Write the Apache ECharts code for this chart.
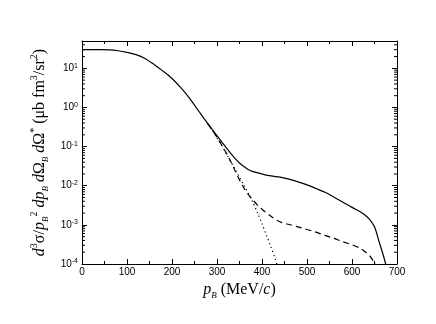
<!DOCTYPE html>
<html>
<head>
<meta charset="utf-8">
<script src="https://cdn.jsdelivr.net/npm/echarts@6/dist/echarts.min.js"></script>
<style>
  html, body { margin: 0; padding: 0; background: #fff; }
  #chart { width: 436px; height: 324px; }
</style>
</head>
<body>
<div id="chart"></div>
<script>
// momentum p_B (MeV/c) and cross sections (ub fm^3/sr^2)
var solidP = [0, 20, 40, 60, 80, 100, 120, 140, 160, 180, 200, 220, 240, 260, 280, 300, 320, 330, 340, 350, 360, 370, 380,
  400, 420, 440, 460, 480, 500, 520, 540, 560, 580, 600, 620, 630, 640, 650, 660, 670, 676];
var solidY = [30, 30, 30, 29.5, 28.2, 25.7, 22.4, 17.8, 12.6, 8.5, 5.5, 3.16, 1.66, 0.79, 0.38, 0.19, 0.095, 0.068, 0.05, 0.038, 0.031, 0.0257, 0.0229,
  0.02, 0.0178, 0.0166, 0.0148, 0.0126, 0.0105, 0.0085, 0.0068, 0.0051, 0.0038, 0.0028, 0.0021, 0.00174, 0.00135, 0.00089, 0.00038, 0.00016, 0.000089];

var dashP = [280, 300, 310, 320, 330, 340, 350, 360, 370, 380, 390, 400, 420, 440, 460, 480, 500, 520, 540, 560, 580, 600, 620, 640, 650, 655];
var dashY = [0.38, 0.174, 0.112, 0.071, 0.043, 0.0245, 0.0141, 0.0087, 0.0059, 0.0043, 0.0032, 0.0025, 0.00166, 0.0012, 0.00102, 0.00089,
  0.00076, 0.00065, 0.00054, 0.00045, 0.00037, 0.00031, 0.000245, 0.000158, 0.000107, 0.000087];

var dotP = [280, 300, 320, 340, 360, 370, 380, 390, 400, 410, 420, 430, 434];
var dotY = [0.38, 0.17, 0.068, 0.0265, 0.0102, 0.0063, 0.0037, 0.00204, 0.00107, 0.00054, 0.00027, 0.000129, 0.000093];

// y axis: decades 10^-4 .. 10^1, top of frame at ~50
var yDecades = [-4, -3, -2, -1, 0, 1];
var yTop = 50;
var minorSteps = [2, 3, 4, 5, 6, 7, 8, 9];

function toPairs(xs, ys) {
  return xs.map(function (x, i) { return [x, Math.log10(ys[i])]; });
}

// log positions of the small ticks between decades
var minorTicks = [];
yDecades.forEach(function (n) {
  minorSteps.forEach(function (k) {
    var v = Math.log10(k) + n;
    if (v < Math.log10(yTop)) minorTicks.push([0, v]);
  });
});

var serif = '"Liberation Serif", "DejaVu Serif", serif';
var sans = '"Liberation Sans", Arial, sans-serif';

var titleRich = {
  i: { fontFamily: serif, fontStyle: 'italic', fontSize: 16, color: '#000', lineHeight: 20 },
  r: { fontFamily: serif, fontSize: 16, color: '#000', lineHeight: 20 },
  sup: { fontFamily: serif, fontSize: 10, color: '#000', verticalAlign: 'top', lineHeight: 11 },
  sub: { fontFamily: serif, fontStyle: 'italic', fontSize: 9, color: '#000', verticalAlign: 'bottom', lineHeight: 10 }
};

var chart = echarts.init(document.getElementById('chart'), null, { renderer: 'canvas' });

var option = {
  backgroundColor: '#fff',
  animation: false,
  grid: { left: 82, right: 39, top: 41, bottom: 60, containLabel: false },
  xAxis: [
    {
      type: 'value', min: 0, max: 700, interval: 100,
      name: '{i|p}{sub|B}{r| (MeV/}{i|c}{r|)}',
      nameLocation: 'middle', nameGap: 15,
      nameTextStyle: { rich: titleRich },
      axisLine: { show: true, onZero: false, lineStyle: { color: '#000', width: 1 } },
      axisTick: { show: true, inside: true, length: 5, lineStyle: { color: '#000' } },
      minorTick: { show: true, splitNumber: 2, length: 3, lineStyle: { color: '#000' } },
      axisLabel: { fontFamily: sans, fontSize: 10, color: '#000', margin: 3 },
      splitLine: { show: false }
    },
    {
      type: 'value', min: 0, max: 700, interval: 100, position: 'top',
      axisLine: { show: true, onZero: false, lineStyle: { color: '#000', width: 1 } },
      axisTick: { show: true, inside: true, length: 5, lineStyle: { color: '#000' } },
      minorTick: { show: true, splitNumber: 2, length: 3, lineStyle: { color: '#000' } },
      axisLabel: { show: false },
      splitLine: { show: false }
    }
  ],
  yAxis: [
    {
      type: 'value', min: -4, max: Math.log10(yTop), interval: 1,
      name: '{i|d}{sup|3}{r|σ/}{i|p}{sub|B}{sup|2}{r| }{i|dp}{sub|B}{r| }{i|d}{r|Ω}{sub|B}{r| }{i|d}{r|Ω}{sup|*}{r| (μb fm}{sup|3}{r|/sr}{sup|2}{r|)}',
      nameLocation: 'middle', nameGap: 30, nameRotate: 90,
      nameTextStyle: { rich: titleRich },
      axisLine: { show: true, onZero: false, lineStyle: { color: '#000', width: 1 } },
      axisTick: { show: true, inside: true, length: 5, lineStyle: { color: '#000' } },
      axisLabel: {
        margin: 4, showMaxLabel: false,
        formatter: function (v) {
          if (Math.abs(v - Math.round(v)) > 1e-6) return '';
          return '{b|10}{s|' + Math.round(v) + '}';
        },
        rich: {
          b: { fontFamily: sans, fontSize: 10, color: '#000', lineHeight: 12 },
          s: { fontFamily: sans, fontSize: 7, color: '#000', verticalAlign: 'top', lineHeight: 8 }
        }
      },
      splitLine: { show: false }
    },
    {
      type: 'value', min: -4, max: Math.log10(yTop), interval: 1, position: 'right',
      axisLine: { show: true, onZero: false, lineStyle: { color: '#000', width: 1 } },
      axisTick: { show: true, inside: true, length: 5, lineStyle: { color: '#000' } },
      axisLabel: { show: false },
      splitLine: { show: false }
    }
  ],
  series: [
    {
      name: 'minor', type: 'custom', silent: true, clip: false, z: 5,
      xAxisIndex: 0, yAxisIndex: 0,
      data: minorTicks,
      renderItem: function (params, api) {
        var v = api.value(1);
        var a = api.coord([0, v]);
        var b = api.coord([700, v]);
        var st = { stroke: '#000', lineWidth: 1 };
        return {
          type: 'group',
          children: [
            { type: 'line', shape: { x1: a[0], y1: a[1], x2: a[0] + 3, y2: a[1] }, style: st },
            { type: 'line', shape: { x1: b[0] - 3, y1: b[1], x2: b[0], y2: b[1] }, style: st }
          ]
        };
      }
    },
    {
      name: 'total', type: 'line', showSymbol: false, smooth: 0.3,
      data: toPairs(solidP, solidY),
      lineStyle: { color: '#000', width: 1.2, type: 'solid' }
    },
    {
      name: 'dashed', type: 'line', showSymbol: false, smooth: 0.3,
      data: toPairs(dashP, dashY),
      lineStyle: { color: '#000', width: 1.2, type: [6, 4] }
    },
    {
      name: 'dotted', type: 'line', showSymbol: false, smooth: 0.3,
      data: toPairs(dotP, dotY),
      lineStyle: { color: '#000', width: 1.2, type: [1.2, 3] }
    }
  ]
};

chart.setOption(option);
</script>
</body>
</html>
